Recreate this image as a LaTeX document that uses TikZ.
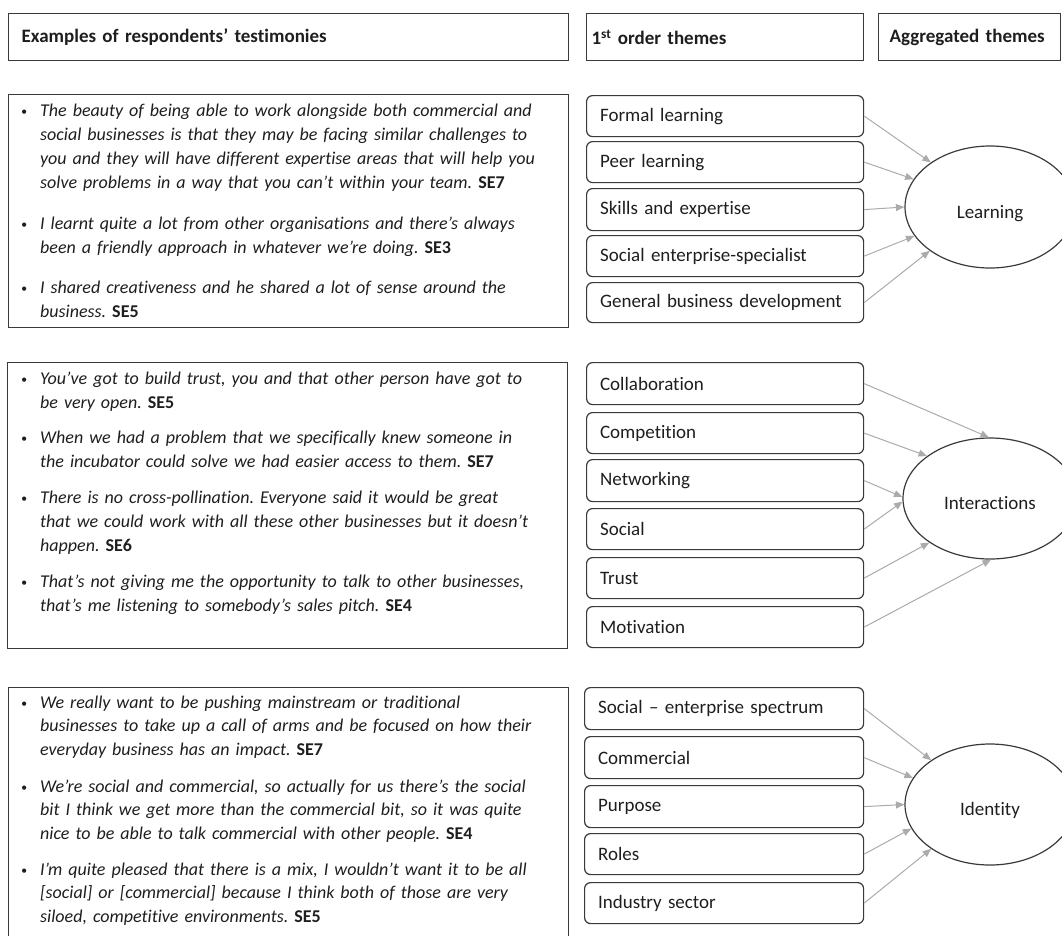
\documentclass[tikz,border=0pt]{standalone}
\usepackage{fontspec}
\setmainfont{Carlito}[Ligatures=NoCommon]
\usetikzlibrary{arrows.meta,shapes.geometric}

\definecolor{ink}{HTML}{1E1E1E}
\definecolor{edge}{HTML}{3A3A3A}
\definecolor{link}{HTML}{ABABAB}

\newcommand\bul{\leavevmode\llap{{\fontsize{12}{12}\selectfont\raisebox{1pt}{•}}\hspace{13pt}}}
\newcommand\src[1]{\textbf{\upshape #1}}

\tikzset{
  x=1pt, y=-1pt,
  every node/.style={text=ink},
  hdrbox/.style={draw=edge, line width=1.2pt, minimum height=47pt, anchor=north west,
    align=left, font=\fontsize{19}{22}\selectfont\bfseries},
  quotebox/.style={draw=edge, line width=1.2pt, anchor=north west, inner sep=0pt},
  quote/.style={anchor=base west, inner sep=0pt, text width=525pt, align=left,
    font=\fontsize{18}{#1}\selectfont\itshape\frenchspacing},
  theme/.style={draw=edge, line width=1.2pt, rounded corners=6pt, anchor=north west,
    text width=250pt, inner xsep=13.5pt, inner ysep=0pt, align=left,
    font=\fontsize{19}{22}\selectfont},
  aggr/.style={draw=edge, line width=1.2pt, ellipse, inner sep=0pt,
    text height=26pt, text depth=4pt, font=\fontsize{19}{22}\selectfont},
  feed/.style={draw=link, line width=1pt, -{Triangle[length=8.5pt,width=7pt]}},
}

\begin{document}
\begin{tikzpicture}
\useasboundingbox (0,0) rectangle (1062,935);

% column headings
\node[hdrbox, minimum width=560pt, text width=534pt, inner xsep=13pt] (hq) at (8,13) {Examples of respondents’ testimonies};
\node[hdrbox, minimum width=277pt, text width=267pt, inner xsep=5pt] (ht) at (586,13) {1\textsuperscript{st} order themes};
\node[hdrbox, minimum width=182pt, text width=160pt, inner xsep=11pt] (ha) at (878,13) {Aggregated themes};

% ---------------- Learning ----------------
\node[quotebox, minimum width=560pt, minimum height=233pt] (q1) at (8,94) {};
\node[quote=24pt] (q1a) at (40,116) {\bul The beauty of being able to work alongside both commercial and\\
social businesses is that they may be facing similar challenges to\\
you and they will have different expertise areas that will help you\\
solve problems in a way that you can’t within your team. \src{SE7}};
\node[quote=24pt] (q1b) at (40,229) {\bul I learnt quite a lot from other organisations and there’s always\\
been a friendly approach in whatever we’re doing. \src{SE3}};
\node[quote=24pt] (q1c) at (40,293) {\bul I shared creativeness and he shared a lot of sense around the\\
business. \src{SE5}};

\node[theme, minimum height=41pt] (l1) at (586,95)  {Formal learning};
\node[theme, minimum height=41pt] (l2) at (586,141) {Peer learning};
\node[theme, minimum height=42pt] (l3) at (586,188) {Skills and expertise};
\node[theme, minimum height=41pt] (l4) at (586,235) {Social enterprise-specialist};
\node[theme, minimum height=40pt] (l5) at (586,282) {General business development};

\node[aggr, minimum width=170pt, minimum height=122pt] (L) at (990,207) {Learning};

\draw[feed] (l1.east) -- (L.143);
\draw[feed] (l2.east) -- (L.160);
\draw[feed] (l3.east) -- (L.180);
\draw[feed] (l4.east) -- (L.201);
\draw[feed] (l5.east) -- (L.216);

% ---------------- Interactions ----------------
\node[quotebox, minimum width=560pt, minimum height=286pt] (q2) at (7,362) {};
\node[quote=24.2pt] (q2a) at (40,384) {\bul You’ve got to build trust, you and that other person have got to\\
be very open. \src{SE5}};
\node[quote=24.2pt] (q2b) at (40,443) {\bul When we had a problem that we specifically knew someone in\\
the incubator could solve we had easier access to them. \src{SE7}};
\node[quote=24.2pt] (q2c) at (40,503) {\bul There is no cross-pollination. Everyone said it would be great\\
that we could work with all these other businesses but it doesn’t\\
happen. \src{SE6}};
\node[quote=24.2pt] (q2d) at (40,587) {\bul That’s not giving me the opportunity to talk to other businesses,\\
that’s me listening to somebody’s sales pitch. \src{SE4}};

\node[theme, minimum height=42pt] (i1) at (586,362) {Collaboration};
\node[theme, minimum height=41pt] (i2) at (586,412) {Competition};
\node[theme, minimum height=42pt] (i3) at (586,459) {Networking};
\node[theme, minimum height=41pt] (i4) at (586,508) {Social};
\node[theme, minimum height=41pt] (i5) at (586,557) {Trust};
\node[theme, minimum height=41pt] (i6) at (586,606) {Motivation};

\node[aggr, minimum width=174pt, minimum height=121pt] (I) at (990,498.5) {Interactions};

\draw[feed] (i1.east) -- (I.91);
\draw[feed] (i2.east) -- (I.146);
\draw[feed] (i3.east) -- (I.179);
\draw[feed] (i4.east) -- (I.182);
\draw[feed] (i5.east) -- (I.216);
\draw[feed] (i6.east) -- (I.271);

% ---------------- Identity ----------------
\node[quotebox, minimum width=560pt, minimum height=256pt] (q3) at (8,687) {};
\node[quote=23.8pt] (q3a) at (40,708) {\bul We really want to be pushing mainstream or traditional\\
businesses to take up a call of arms and be focused on how their\\
everyday business has an impact. \src{SE7}};
\node[quote=23.8pt] (q3b) at (40,792) {\bul We’re social and commercial, so actually for us there’s the social\\
bit I think we get more than the commercial bit, so it was quite\\
nice to be able to talk commercial with other people. \src{SE4}};
\node[quote=23.8pt] (q3c) at (40,875) {\bul I’m quite pleased that there is a mix, I wouldn’t want it to be all\\
{[}social{]} or [commercial] because I think both of those are very\\
siloed, competitive environments. \src{SE5}};

\node[theme, minimum height=42pt, text width=252pt] (d1) at (584,687) {Social – enterprise spectrum};
\node[theme, minimum height=42pt, text width=252pt] (d2) at (584,736) {Commercial};
\node[theme, minimum height=42pt, text width=252pt] (d3) at (584,785) {Purpose};
\node[theme, minimum height=41pt, text width=252pt] (d4) at (584,833) {Roles};
\node[theme, minimum height=41pt, text width=252pt] (d5) at (584,882) {Industry sector};

\node[aggr, minimum width=170pt, minimum height=121pt] (D) at (990,804.5) {Identity};

\draw[feed] (d1.east) -- (D.143);
\draw[feed] (d2.east) -- (D.161);
\draw[feed] (d3.east) -- (D.180);
\draw[feed] (d4.east) -- (D.197);
\draw[feed] (d5.east) -- (D.217);
\end{tikzpicture}
\end{document}
